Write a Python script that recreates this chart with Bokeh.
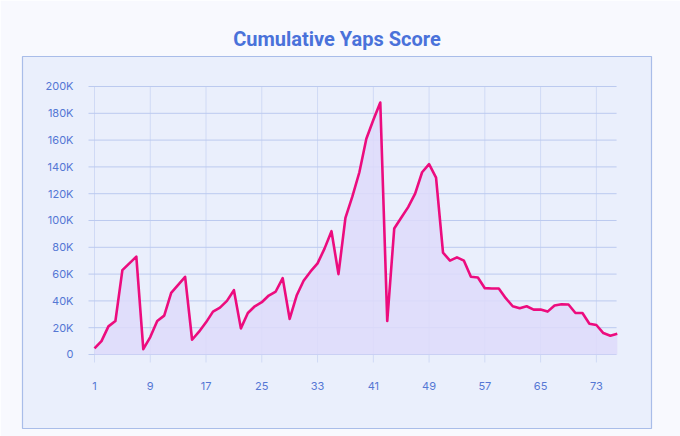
from bokeh.plotting import figure
from bokeh.models import FixedTicker, Range1d
from bokeh.embed import file_html
from bokeh.resources import INLINE

# ---- data ----
days = list(range(1, 77))
scores = [
    4500, 10000, 21000, 25000, 63000, 68000, 73000, 4000, 13000, 25000,
    29000, 46000, 52000, 58000, 11000, 17000, 24000, 32000, 35000, 40000,
    48000, 19500, 31000, 36000, 39000, 44000, 47000, 57000, 26500, 44000,
    55000, 62000, 68000, 79000, 92000, 60000, 102000, 118000, 136000, 161000,
    175000, 188000, 25000, 94000, 102000, 110000, 120000, 136000, 142000, 132000,
    76000, 70000, 72500, 70000, 58000, 57500, 49500, 49300, 49300, 42000,
    36000, 34500, 36000, 33500, 33500, 32000, 36500, 37500, 37300, 31000,
    31000, 23000, 22000, 16000, 14000, 15500,
]
x_ticks = [1, 9, 17, 25, 33, 41, 49, 57, 65, 73]
y_ticks = [0, 20000, 40000, 60000, 80000, 100000, 120000, 140000, 160000, 180000, 200000]
y_tick_labels = ["0", "20K", "40K", "60K", "80K", "100K", "120K", "140K", "160K", "180K", "200K"]
title_text = "Cumulative Yaps Score"

# ---- style ----
FONT = "Inter"
LABEL_COLOR = "#5577d4"
PAGE_BG = "#f8f9fe"
PANEL_BG = "#eaeffc"
GRID_X0, GRID_X1 = 0.14, 75.9        # extent of the inner plotting area
GRID_Y0, GRID_Y1 = -5970, 200000

p = figure(
    width=680, height=436,
    output_backend="svg", toolbar_location=None,
    x_range=Range1d(-9.33, 80.91), y_range=Range1d(-55224, 222388),
    min_border_left=22, min_border_right=29, min_border_top=56, min_border_bottom=8,
    title=title_text,
)
p.border_fill_color = PAGE_BG
p.background_fill_color = PANEL_BG
p.outline_line_color = "#a9bde9"
p.outline_line_width = 1.2

p.title.align = "center"
p.title.text_font = "Roboto"
p.title.text_font_style = "bold"
p.title.text_font_size = "20px"
p.title.text_color = "#4a72da"
p.title.standoff = 12

# grid lines (bounded to the inner plotting area)
p.xgrid.visible = False
p.ygrid.visible = False
p.segment(x0=x_ticks, x1=x_ticks, y0=[GRID_Y0] * len(x_ticks), y1=[GRID_Y1] * len(x_ticks),
          line_color="#d0daf5", line_width=1)
p.segment(x0=[GRID_X0] * len(y_ticks), x1=[GRID_X1] * len(y_ticks), y0=y_ticks, y1=y_ticks,
          line_color="#bccaef", line_width=1)

# area + line
p.varea(x=days, y1=[0] * len(days), y2=scores, fill_color="#dedafa", fill_alpha=0.85)
p.line(x=days, y=scores, line_color="#ec0c7e", line_width=2.6, line_join="round")

# axes (labels pulled inside the panel)
p.xaxis.ticker = FixedTicker(ticks=x_ticks)
p.yaxis.ticker = FixedTicker(ticks=y_ticks)
p.yaxis.major_label_overrides = {t: l for t, l in zip(y_ticks, y_tick_labels)}
for ax in (p.xaxis[0], p.yaxis[0]):
    ax.axis_line_color = None
    ax.major_tick_line_color = None
    ax.minor_tick_line_color = None
    ax.major_label_text_color = LABEL_COLOR
    ax.major_label_text_font = FONT
    ax.major_label_text_font_size = "11px"
p.yaxis.major_label_standoff = -57
p.xaxis.major_label_standoff = -53

open("out.html", "w").write(file_html(p, INLINE))
